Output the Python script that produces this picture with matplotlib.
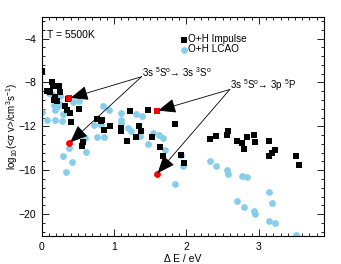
import matplotlib
matplotlib.use("Agg")
import matplotlib.pyplot as plt
from matplotlib.ticker import MultipleLocator

plt.rcParams['font.family'] = ['Liberation Sans', 'DejaVu Sans']
plt.rcParams['mathtext.fontset'] = 'custom'
plt.rcParams['mathtext.rm'] = 'Liberation Sans'
plt.rcParams['mathtext.it'] = 'Liberation Sans'

# O+H Impulse (black squares)
imp_x = [0.01, 0.15, 0.16, 0.24, 0.08, 0.12, 0.25, 0.19, 0.17, 0.21, 0.32, 0.35,
         0.51, 0.39, 0.41, 0.77, 0.82, 0.94, 0.86, 0.575, 0.56, 0.83, 1.09, 1.10,
         1.22, 1.47, 1.34, 1.37, 1.30, 1.18, 1.53, 1.63, 1.67, 1.84, 1.92, 1.97,
         2.32, 2.41, 2.56, 2.57, 2.70, 2.77, 2.79, 2.84, 2.94, 2.95, 3.14, 3.14,
         3.18, 3.22, 3.52, 3.55, 0.36]
imp_y = [-7.0, -8.0, -8.3, -8.35, -8.8, -8.85, -8.9, -9.3, -9.6, -9.7, -10.15, -10.5,
         -10.4, -10.75, -11.65, -11.3, -11.5, -12.0, -12.3, -13.45, -13.75, -11.4, -12.15, -12.45,
         -10.57, -10.47, -12.0, -12.4, -13.0, -13.35, -13.0, -13.85, -14.7, -11.8, -14.6, -15.35,
         -13.2, -12.9, -12.76, -12.4, -13.3, -13.5, -14.1, -12.97, -12.76, -13.4, -13.3, -14.75,
         -14.4, -14.2, -14.66, -15.5, -9.5]

# O+H LCAO (light blue circles)
lcao_x = [0.0, 0.08, 0.10, 0.14, 0.25, 0.17, 0.21, 0.25, 0.19, 0.30, 0.43, 0.52,
          0.19, 0.28, 0.38, 0.30, 0.42, 0.34, 0.62, 0.60, 0.77, 0.86, 0.73, 0.82,
          0.85, 0.93, 1.10, 1.10, 1.10, 1.31, 1.38, 1.20, 1.23, 1.36, 1.54, 1.62,
          1.67, 1.47, 1.71, 1.92, 1.96, 1.84, 2.32, 2.41, 2.56, 2.57, 2.77, 2.84,
          3.14, 3.18, 2.70, 2.79, 2.94, 2.95, 3.14, 3.22, 3.52]
lcao_y = [-10.7, -11.45, -9.0, -9.07, -9.2, -10.1, -10.2, -10.0, -10.5, -10.9, -9.8, -9.7,
          -11.45, -11.5, -13.95, -14.75, -15.25, -16.2, -14.3, -13.1, -12.97, -12.95, -11.9, -11.9,
          -10.15, -10.5, -10.75, -11.45, -11.7, -10.9, -11.1, -12.15, -12.4, -12.9, -12.65, -12.75,
          -13.05, -13.6, -14.2, -14.6, -15.65, -17.25, -15.2, -15.65, -16.0, -16.35, -16.5, -16.6,
          -18.0, -18.95, -18.85, -19.4, -19.7, -20.0, -20.6, -20.8, -21.9]

# Highlighted transitions (red)
red_sq_x = [0.38, 1.59]
red_sq_y = [-9.45, -10.6]
red_ci_x = [0.38, 1.59]
red_ci_y = [-13.55, -16.36]

labels = ["3s $^5$S$^{\\rm o}$\u2192 3s $^3$S$^{\\rm o}$", "3s $^5$S$^{\\rm o}$\u2192 3p $^5$P"]
label_xy = [(1.38, -7.48), (2.60, -8.64)]

fig = plt.figure(figsize=(3.41, 2.64), dpi=100)
ax = fig.add_axes([0.122, 0.106, 0.828, 0.831])

ax.scatter(imp_x, imp_y, marker='s', s=19, color='black', linewidths=0, label='O+H Impulse', zorder=3)
ax.scatter(lcao_x, lcao_y, marker='o', s=24, color='#87CEEB', linewidths=0, label='O+H LCAO', zorder=2)
ax.scatter(red_sq_x, red_sq_y, marker='s', s=19, color='red', linewidths=0, zorder=5)
ax.scatter(red_ci_x, red_ci_y, marker='o', s=24, color='red', linewidths=0, zorder=5)

for i, (lx, ly) in enumerate(label_xy):
    ax.text(lx, ly + 0.42, labels[i], fontsize=7, ha='left', va='center')
    for tx, ty in [(red_sq_x[i], red_sq_y[i]), (red_ci_x[i], red_ci_y[i])]:
        ax.annotate('', xy=(tx, ty), xytext=(lx, ly),
                    arrowprops=dict(arrowstyle='-|>,head_length=1.1,head_width=0.45',
                                    color='black', lw=0.6, shrinkA=0, shrinkB=1),
                    zorder=6)

ax.text(0.08, -3.7, 'T = 5500K', fontsize=7.5, ha='left', va='center')

leg = ax.legend(loc='upper left', bbox_to_anchor=(0.49, 0.92), frameon=False,
                fontsize=7.2, handletextpad=0.0, labelspacing=0.0,
                handlelength=0.8, borderpad=0, borderaxespad=0, markerscale=1.0)

ax.set_xlim(0, 3.9)
ax.set_ylim(-22, -2)
ax.xaxis.set_major_locator(MultipleLocator(1))
ax.xaxis.set_minor_locator(MultipleLocator(0.1))
ax.yaxis.set_major_locator(MultipleLocator(4))
ax.yaxis.set_minor_locator(MultipleLocator(0.8))
ax.tick_params(which='both', direction='in', top=True, right=True, labelsize=7.5, width=0.6)
ax.tick_params(which='major', length=5, pad=4)
ax.tick_params(which='minor', length=2.5)
for sp in ax.spines.values():
    sp.set_linewidth(0.8)

ax.set_xlabel('\u0394 E / eV', fontsize=7.5, labelpad=2)
ax.set_ylabel('log$_{10}$(<\u03c3 v>/cm$^3$s$^{-1}$)', fontsize=7, labelpad=-1)

fig.savefig('out.png', dpi=100)
